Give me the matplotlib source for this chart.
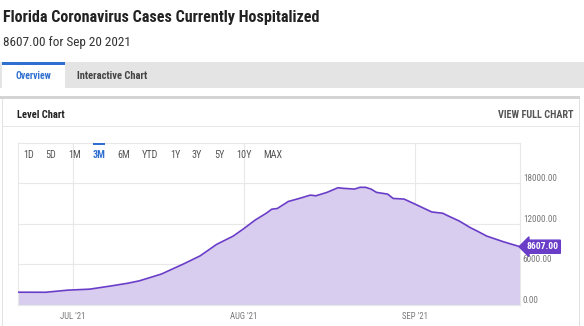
import matplotlib
matplotlib.use('Agg')
import matplotlib.pyplot as plt
from matplotlib import font_manager as fm
from matplotlib.patches import Rectangle
import pandas as pd

# data (3M window)
dates = ['2021-06-21', '2021-06-26', '2021-06-30', '2021-07-04', '2021-07-08',
         '2021-07-11', '2021-07-13', '2021-07-17', '2021-07-19', '2021-07-21',
         '2021-07-24', '2021-07-27', '2021-07-30', '2021-08-01', '2021-08-03',
         '2021-08-05', '2021-08-06', '2021-08-07', '2021-08-09', '2021-08-11',
         '2021-08-13', '2021-08-14', '2021-08-16', '2021-08-18', '2021-08-19',
         '2021-08-21', '2021-08-22', '2021-08-23', '2021-08-24', '2021-08-25',
         '2021-08-27', '2021-08-28', '2021-08-30', '2021-09-01', '2021-09-04',
         '2021-09-06', '2021-09-07', '2021-09-09', '2021-09-11', '2021-09-12',
         '2021-09-14', '2021-09-17', '2021-09-20']
hospitalized = [1890, 1880, 2190, 2340, 2830,
                3230, 3570, 4570, 5320, 6060,
                7250, 8950, 10170, 11320, 12550,
                13550, 14150, 14250, 15290, 15740,
                16230, 16130, 16630, 17320, 17230,
                17120, 17380, 17380, 17120, 16630,
                16380, 15740, 15640, 14890, 13740,
                13550, 13150, 12400, 11420, 11020,
                10170, 9340, 8607]
y_ticks = [0, 6000, 12000, 18000]
month_ticks = ['2021-07-01', '2021-08-01', '2021-09-01']
month_labels = ["JUL '21", "AUG '21", "SEP '21"]
ranges = ['1D', '5D', '1M', '3M', '6M', 'YTD', '1Y', '3Y', '5Y', '10Y', 'MAX']
range_x = [29, 51, 75, 99, 124, 150, 175, 197, 219, 244, 273]

W, H = 584, 326
PURPLE = '#6a3dc8'
FILL = '#d8cdef'
GRID = '#e8e8e8'
BLUE = '#2f6fd0'

names = {f.name for f in fm.fontManager.ttflist}
narrow = next((n for n in ['Roboto Condensed', 'Liberation Sans Narrow'] if n in names), None)
FONT = narrow if narrow else 'Roboto'
plt.rcParams['font.family'] = [FONT, 'DejaVu Sans']

fig = plt.figure(figsize=(W / 100, H / 100), dpi=100)


def fx(x):
    return x / W


def fy(y):
    return 1 - y / H


def box(x0, y0, x1, y1, color, z=0):
    fig.patches.append(Rectangle((fx(x0), fy(y1)), (x1 - x0) / W, (y1 - y0) / H,
                                 transform=fig.transFigure, color=color, lw=0, zorder=z))


# header
fig.text(fx(3), fy(22), 'Florida Coronavirus Cases Currently Hospitalized',
         fontsize=11.6, fontweight='bold', color='#222222', va='baseline')
fig.text(fx(3), fy(46), '8607.00 for Sep 20 2021', fontsize=9.5, color='#333333', va='baseline')

# tab bar
box(0, 62, W, 88, '#e4e4e4')
box(2, 62, 65, 88, 'white', 1)
box(2, 62, 65, 64.5, BLUE, 2)
fig.text(fx(33), fy(79), 'Overview', fontsize=7, fontweight='bold', color=BLUE,
         ha='center', va='baseline', zorder=3)
fig.text(fx(77), fy(79), 'Interactive Chart', fontsize=7.6, fontweight='bold', color='#444444',
         va='baseline', zorder=3)

# card
box(0, 96, 580, 99, '#d4d4d4')
box(2, 99, 3, H, '#e2e2e2')
box(579, 99, 580, H, '#e2e2e2')
box(2, 125.5, 580, 126.5, '#e6e6e6')
fig.text(fx(17), fy(118.5), 'Level Chart', fontsize=7.6, fontweight='bold', color='#222222',
         va='baseline')
fig.text(fx(573), fy(118.5), 'VIEW FULL CHART', fontsize=7.3, fontweight='bold', color='#555555',
         va='baseline', ha='right')

# chart
x = pd.to_datetime(dates)
ax = fig.add_axes([fx(18), fy(305), (520 - 18) / W, (305 - 142.5) / H])
ax.fill_between(x, hospitalized, 0, color=FILL, lw=0, zorder=1)
ax.plot(x, hospitalized, color=PURPLE, lw=1.2, zorder=3)
ax.set_xlim(x[0], x[-1])
ax.set_ylim(0, 24000)

ax.set_yticks(y_ticks)
ax.set_yticklabels([f'{v:.2f}' for v in y_ticks])
ax.yaxis.tick_right()
ax.tick_params(axis='y', length=0, pad=2, labelsize=6.6, labelcolor='#777777')
for lab in ax.get_yticklabels():
    lab.set_va('bottom')
ax.set_xticks(pd.to_datetime(month_ticks))
ax.set_xticklabels(month_labels)
ax.tick_params(axis='x', length=0, pad=5, labelsize=6.3, labelcolor='#777777')
ax.grid(True, color=GRID, lw=0.8, zorder=0)
ax.set_axisbelow(True)
for s in ax.spines.values():
    s.set_color(GRID)
    s.set_linewidth(0.8)

# last value tag
ax.annotate(f'{hospitalized[-1]:.2f}', xy=(x[-1], hospitalized[-1]), xytext=(4.5, 0),
            textcoords='offset points', va='center', ha='left', fontsize=6.8,
            fontweight='bold', color='white', annotation_clip=False,
            bbox=dict(boxstyle='larrow,pad=0.22', fc=PURPLE, ec=PURPLE))

# range buttons
for lab, bx in zip(ranges, range_x):
    sel = lab == '3M'
    fig.text(fx(bx), fy(157.5), lab, fontsize=7.3, ha='center', va='baseline',
             color=BLUE if sel else '#555555', fontweight='bold' if sel else 'normal')
box(93, 142.5, 105, 144.5, BLUE, 5)

plt.savefig('out.png', dpi=100)
